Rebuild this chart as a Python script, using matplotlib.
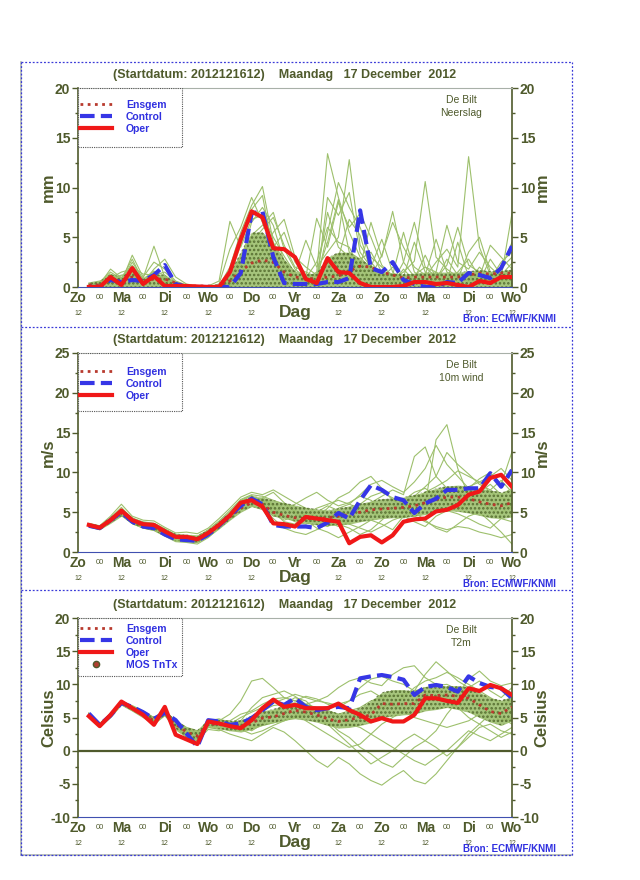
import matplotlib
matplotlib.use("Agg")
import matplotlib.pyplot as plt
from matplotlib.lines import Line2D
from matplotlib.patches import Rectangle
import numpy as np

plt.rcParams['font.family'] = ['Liberation Sans', 'DejaVu Sans']
plt.rcParams['hatch.linewidth'] = 1.2
plt.rcParams['axes.unicode_minus'] = False

# forecast hours after 16 Dec 12 UTC, 6-hourly
hours = np.arange(6, 241, 6)
day_labels = ["Zo", "Ma", "Di", "Wo", "Do", "Vr", "Za", "Zo", "Ma", "Di", "Wo"]

# ---- Neerslag (mm / 6h) ----
prec_oper = [0.0, 0.0, 1.0, 0.2, 1.9, 0.3, 1.1, 0.1, 0.1, 0.1,
             0.05, 0.0, 0.0, 1.5, 4.8, 7.6, 7.0, 3.9, 3.8, 3.0,
             0.8, 0.4, 2.9, 1.5, 1.4, 0.4, 0.0, 0.0, 0.0, 0.1,
             0.5, 0.5, 0.3, 0.4, 0.2, 0.0, 0.6, 0.4, 1.0, 1.0]
prec_ctrl = [0.0, 0.0, 0.7, 0.5, 0.7, 0.6, 1.2, 2.2, 0.3, 0.0,
             0.0, 0.0, 0.0, 0.0, 1.4, 7.4, 7.6, 3.0, 0.4, 0.3,
             0.3, 0.3, 0.5, 0.5, 0.9, 7.7, 1.9, 1.5, 2.5, 0.7,
             0.3, 0.0, 0.0, 0.5, 0.4, 1.4, 1.2, 0.9, 1.9, 4.1]
prec_mean = [0.2, 0.2, 0.7, 0.6, 1.0, 0.6, 0.8, 0.8, 0.4, 0.1,
             0.1, 0.1, 0.1, 0.6, 1.6, 2.4, 2.7, 2.5, 1.5, 1.0,
             0.9, 0.8, 1.0, 1.1, 1.6, 2.1, 2.0, 1.5, 1.2, 0.9,
             1.0, 1.0, 1.0, 1.0, 1.0, 1.2, 1.4, 1.3, 1.4, 1.4]
prec_members = [
    [0.3, 0.5, 1.5, 0.8, 2.8, 0.6, 1.2, 0.9, 0.3, 0.1, 0.0, 0.0, 0.1, 2.0, 5.5, 8.2, 10.1, 4.5, 2.0, 1.2,
     0.8, 1.5, 13.4, 9.0, 5.5, 3.0, 1.8, 0.9, 0.5, 0.6, 1.2, 2.0, 1.5, 0.8, 0.6, 1.4, 0.9, 0.7, 1.2, 2.4],
    [0.2, 0.4, 0.9, 1.5, 1.8, 0.9, 4.1, 1.0, 0.4, 0.1, 0.0, 0.1, 0.6, 6.6, 4.0, 6.8, 7.2, 5.0, 3.1, 1.4,
     4.7, 2.0, 3.5, 5.0, 12.8, 4.2, 2.5, 1.2, 0.8, 1.5, 2.6, 10.6, 3.0, 1.8, 1.0, 0.7, 0.5, 1.1, 1.9, 3.0],
    [0.1, 0.2, 1.2, 0.5, 3.2, 1.0, 2.5, 1.8, 0.6, 0.2, 0.1, 0.0, 0.0, 0.3, 2.5, 6.5, 8.0, 6.2, 2.5, 0.8,
     1.0, 6.9, 4.0, 8.5, 6.0, 7.4, 5.0, 2.2, 1.0, 0.7, 0.5, 1.0, 2.5, 3.8, 2.0, 13.1, 4.0, 1.2, 0.8, 1.0],
    [0.4, 0.6, 0.8, 1.2, 1.0, 0.4, 1.8, 2.8, 1.0, 0.3, 0.1, 0.0, 0.2, 0.8, 3.0, 4.5, 5.8, 7.0, 4.2, 2.0,
     1.5, 1.0, 7.5, 4.0, 3.0, 2.0, 6.5, 3.0, 7.6, 2.5, 1.0, 0.5, 1.5, 6.2, 2.5, 1.8, 3.5, 2.0, 1.0, 7.4],
    [0.0, 0.1, 0.5, 0.3, 1.5, 0.2, 0.8, 0.4, 0.2, 0.0, 0.0, 0.0, 0.0, 0.5, 1.5, 3.5, 5.0, 3.2, 1.5, 0.8,
     0.6, 0.4, 9.0, 7.2, 9.5, 3.5, 2.0, 4.8, 1.5, 0.6, 0.8, 3.2, 0.9, 0.5, 4.5, 1.0, 0.6, 2.8, 1.2, 1.5],
    [0.2, 0.3, 1.8, 0.9, 2.2, 0.7, 1.5, 1.2, 0.3, 0.1, 0.0, 0.0, 0.3, 3.8, 6.0, 9.0, 6.5, 4.0, 5.5, 2.5,
     1.2, 0.8, 2.5, 3.0, 6.8, 5.2, 1.5, 0.9, 2.0, 1.0, 4.5, 1.5, 0.8, 2.2, 6.0, 2.2, 1.5, 0.8, 2.5, 3.5],
    [0.3, 0.2, 0.6, 0.7, 0.9, 0.5, 1.0, 0.6, 0.2, 0.0, 0.0, 0.0, 0.0, 0.2, 0.9, 2.0, 3.5, 5.5, 6.8, 3.0,
     2.0, 1.2, 4.5, 8.8, 3.5, 2.8, 3.5, 1.5, 0.5, 2.5, 6.5, 2.0, 1.0, 0.6, 1.5, 2.8, 1.0, 4.2, 3.0, 1.8],
    [0.1, 0.4, 1.0, 1.1, 2.0, 1.3, 1.2, 1.5, 0.5, 0.2, 0.1, 0.0, 0.1, 1.2, 4.2, 7.8, 9.2, 3.5, 1.2, 0.5,
     0.3, 0.5, 5.5, 10.5, 8.0, 6.0, 3.0, 2.0, 1.2, 5.5, 1.5, 0.8, 1.2, 1.0, 0.8, 3.5, 5.0, 1.5, 0.6, 1.2],
    [0.2, 0.5, 1.3, 0.6, 2.5, 0.8, 1.6, 0.7, 0.3, 0.1, 0.0, 0.0, 0.0, 0.6, 2.2, 5.2, 6.2, 7.5, 3.8, 1.8,
     0.9, 2.5, 6.0, 4.5, 4.0, 1.8, 1.0, 3.2, 6.5, 4.0, 2.0, 1.2, 4.8, 1.5, 0.9, 1.2, 0.8, 0.6, 1.8, 4.5],
    [0.0, 0.2, 0.7, 0.4, 1.2, 0.3, 0.9, 0.5, 0.1, 0.0, 0.0, 0.0, 0.0, 0.1, 1.0, 2.8, 4.2, 2.5, 1.0, 0.4,
     0.3, 0.2, 1.5, 2.5, 3.0, 1.2, 0.8, 0.5, 0.4, 1.8, 0.6, 0.4, 0.7, 2.8, 1.2, 0.5, 2.0, 0.9, 0.5, 0.8],
]
prec_core_lo = [0.0] * 40
prec_core_hi = [0.4, 0.6, 1.3, 1.0, 1.8, 0.8, 1.3, 1.2, 0.5, 0.2,
                0.1, 0.1, 0.2, 1.5, 3.5, 5.5, 5.5, 4.5, 2.8, 1.6,
                1.3, 1.4, 3.0, 3.5, 3.5, 2.8, 2.2, 1.6, 1.4, 1.3,
                1.4, 1.5, 1.5, 1.5, 1.5, 1.6, 1.7, 1.6, 1.6, 1.8]

# ---- 10m wind (m/s) ----
wind_oper = [3.4, 3.05, 4.0, 5.2, 4.0, 3.5, 3.4, 2.6, 1.9, 1.9,
             1.6, 2.4, 3.4, 4.6, 6.2, 6.5, 5.7, 3.6, 3.5, 3.2,
             4.4, 4.2, 4.0, 3.8, 1.1, 1.9, 2.1, 1.2, 2.1, 3.8,
             4.1, 4.2, 5.1, 5.3, 5.9, 7.2, 7.6, 9.3, 9.7, 8.2]
wind_ctrl = [3.3, 3.0, 4.0, 5.0, 3.8, 3.2, 3.0, 2.2, 1.6, 1.5,
             1.4, 2.2, 3.3, 4.6, 5.8, 6.7, 6.0, 3.4, 3.2, 3.2,
             3.2, 3.0, 3.7, 4.9, 4.2, 6.5, 8.4, 7.8, 6.9, 6.5,
             4.9, 6.1, 6.7, 7.8, 7.8, 8.0, 8.0, 9.9, 8.2, 10.3]
wind_mean = [3.4, 3.0, 4.0, 4.9, 3.9, 3.3, 3.1, 2.4, 1.8, 1.7,
             1.6, 2.3, 3.3, 4.4, 5.5, 6.2, 6.0, 5.0, 4.6, 4.3,
             4.2, 4.2, 4.3, 4.5, 4.7, 5.0, 5.3, 5.4, 5.5, 5.6,
             5.8, 6.2, 6.6, 6.9, 6.9, 6.7, 6.3, 6.0, 5.8, 6.2]
wind_members = [
    [3.5, 3.2, 4.3, 5.6, 4.2, 3.8, 3.6, 2.9, 2.2, 2.0, 1.9, 2.8, 3.9, 5.2, 6.6, 7.2, 7.0, 6.5, 6.0, 5.2,
     4.5, 3.8, 4.2, 5.5, 6.0, 7.2, 8.5, 9.0, 8.2, 7.5, 8.8, 10.5, 13.4, 11.0, 9.5, 8.0, 9.2, 10.0, 8.5, 12.6],
    [3.2, 2.8, 3.8, 4.7, 3.6, 3.0, 2.7, 2.0, 1.3, 1.2, 1.0, 1.8, 3.0, 4.2, 5.5, 6.0, 6.8, 7.5, 6.2, 5.0,
     4.0, 3.0, 2.5, 1.8, 2.5, 3.2, 4.0, 3.5, 2.8, 4.5, 5.2, 6.0, 14.1, 16.0, 10.5, 7.0, 6.2, 5.5, 4.8, 6.0],
    [3.4, 3.1, 4.1, 5.0, 3.9, 3.4, 3.2, 2.5, 1.9, 1.8, 1.7, 2.5, 3.6, 4.9, 6.0, 6.9, 6.5, 5.8, 4.5, 3.8,
     3.5, 4.2, 5.5, 6.8, 7.5, 8.8, 9.5, 8.0, 6.5, 5.8, 6.2, 7.5, 8.2, 9.0, 10.2, 9.5, 8.8, 9.5, 10.5, 9.0],
    [3.6, 3.3, 4.5, 6.0, 4.5, 4.0, 3.9, 3.1, 2.4, 2.5, 2.3, 3.0, 4.2, 5.5, 6.9, 7.5, 7.2, 7.8, 7.0, 6.2,
     5.5, 5.0, 4.2, 3.5, 3.0, 2.2, 2.8, 4.0, 5.2, 6.0, 5.0, 4.0, 3.0, 2.5, 3.5, 4.5, 5.0, 3.8, 2.5, 1.0],
    [3.3, 2.9, 3.9, 4.8, 3.7, 3.1, 2.9, 2.2, 1.5, 1.4, 1.3, 2.1, 3.1, 4.3, 5.6, 6.4, 6.2, 5.0, 3.8, 3.5,
     4.2, 5.0, 5.8, 5.2, 4.5, 5.5, 6.2, 7.0, 7.8, 7.2, 12.0, 13.2, 9.5, 8.0, 7.5, 6.8, 7.2, 6.5, 6.0, 5.5],
    [3.5, 3.0, 4.2, 5.3, 4.1, 3.6, 3.5, 2.8, 2.0, 1.9, 1.8, 2.6, 3.8, 5.0, 6.4, 7.0, 5.8, 4.5, 5.2, 6.0,
     6.8, 7.5, 6.5, 5.8, 6.2, 7.0, 6.5, 5.5, 4.8, 5.0, 5.8, 6.5, 7.0, 6.2, 5.5, 6.0, 7.5, 8.5, 7.2, 8.0],
    [3.3, 3.0, 3.9, 4.9, 3.8, 3.3, 3.1, 2.3, 1.7, 1.6, 1.5, 2.3, 3.4, 4.5, 5.9, 6.6, 6.0, 4.8, 4.0, 4.5,
     5.0, 4.5, 3.8, 3.2, 3.8, 4.5, 5.0, 5.8, 6.0, 5.2, 4.5, 3.8, 3.2, 2.8, 3.2, 3.0, 2.5, 2.2, 1.8, 2.2],
    [3.4, 3.1, 4.0, 5.1, 4.0, 3.5, 3.3, 2.6, 1.8, 1.7, 1.6, 2.4, 3.5, 4.7, 6.1, 6.8, 6.6, 6.0, 5.5, 4.8,
     4.2, 3.6, 3.2, 4.0, 5.0, 6.0, 7.0, 7.5, 6.8, 6.2, 7.0, 8.2, 9.5, 12.5, 11.0, 9.8, 8.5, 7.8, 9.0, 7.5],
    [3.2, 2.9, 3.7, 4.6, 3.6, 3.0, 2.8, 2.1, 1.4, 1.3, 1.2, 2.0, 3.0, 4.1, 5.3, 5.8, 5.5, 4.2, 3.0, 2.5,
     2.2, 2.8, 3.5, 4.0, 3.5, 3.0, 2.5, 3.2, 4.0, 4.5, 3.8, 3.2, 4.5, 5.2, 4.8, 4.2, 3.5, 3.0, 4.2, 3.8],
    [3.5, 3.2, 4.2, 5.4, 4.3, 3.7, 3.6, 2.9, 2.1, 2.1, 2.0, 2.7, 3.7, 4.9, 6.5, 7.1, 6.4, 5.5, 4.5, 4.0,
     4.8, 5.5, 6.0, 6.5, 6.0, 5.5, 5.0, 4.5, 5.5, 6.5, 7.5, 8.0, 7.0, 6.5, 7.0, 8.2, 8.8, 7.5, 6.8, 6.5],
]
wind_core_lo = [3.1, 2.8, 3.6, 4.5, 3.5, 3.0, 2.7, 2.0, 1.4, 1.3,
                1.2, 1.9, 2.9, 4.0, 5.0, 5.7, 5.3, 4.5, 4.2, 3.9,
                3.6, 3.4, 3.3, 3.4, 3.5, 3.8, 4.0, 4.2, 4.3, 4.3,
                4.5, 4.7, 5.0, 5.2, 5.1, 4.9, 4.6, 4.3, 4.2, 4.4]
wind_core_hi = [3.7, 3.3, 4.4, 5.4, 4.3, 3.7, 3.5, 2.9, 2.3, 2.2,
                2.1, 2.8, 3.8, 5.0, 6.3, 7.0, 6.9, 6.5, 6.2, 5.9,
                5.6, 5.4, 5.3, 5.5, 5.8, 6.1, 6.4, 6.7, 6.8, 6.9,
                7.2, 7.6, 8.0, 8.3, 8.4, 8.3, 8.0, 7.8, 7.5, 7.8]

# ---- T2m (Celsius) ----
t2m_oper = [5.2, 3.7, 5.4, 7.4, 6.4, 5.4, 3.9, 6.6, 2.4, 1.7,
            1.0, 4.4, 4.1, 3.7, 3.4, 4.6, 6.4, 7.7, 6.6, 6.9,
            6.4, 6.4, 6.4, 7.1, 6.1, 5.4, 4.4, 4.9, 4.4, 4.4,
            5.4, 7.9, 7.9, 7.5, 7.2, 9.4, 9.0, 9.9, 9.4, 8.4]
t2m_ctrl = [5.6, 3.9, 5.3, 7.2, 6.6, 5.8, 4.8, 5.7, 4.6, 2.6,
            0.6, 4.6, 4.4, 3.9, 4.1, 4.9, 6.1, 7.4, 6.9, 7.9,
            6.6, 6.1, 6.4, 6.6, 6.4, 10.9, 11.2, 11.4, 11.1, 10.7,
            8.4, 9.6, 9.9, 9.6, 8.9, 11.2, 10.2, 9.6, 9.4, 7.9]
t2m_mean = [5.4, 3.8, 5.3, 7.2, 6.4, 5.6, 4.5, 5.8, 4.0, 2.8,
            2.2, 4.0, 4.0, 3.7, 3.6, 4.2, 4.9, 5.1, 5.6, 6.1,
            5.8, 5.4, 4.8, 4.4, 4.7, 5.0, 5.4, 7.1, 7.0, 7.1,
            7.1, 8.4, 8.3, 8.4, 8.2, 7.9, 6.9, 5.9, 5.6, 6.6]
t2m_members = [
    [5.6, 4.0, 5.5, 7.3, 6.8, 6.0, 5.0, 6.0, 4.5, 3.5, 3.0, 4.2, 4.5, 5.5, 7.5, 10.5, 10.9, 9.5, 8.0, 7.5,
     8.2, 7.8, 7.0, 6.5, 7.5, 9.5, 10.8, 11.2, 10.5, 10.0, 9.0, 11.5, 13.4, 12.0, 10.5, 9.5, 10.5, 9.0, 8.0, 9.5],
    [5.3, 3.6, 5.1, 7.0, 6.2, 5.2, 4.2, 5.5, 3.5, 2.2, 1.8, 3.5, 3.2, 2.5, 2.0, 1.5, 2.5, 3.5, 2.8, 1.5,
     0.0, -1.5, -2.5, -1.0, -2.0, -3.5, -4.5, -5.2, -4.0, -3.0, -4.5, -5.0, -3.5, -1.5, 0.5, 2.0, 3.5, 4.0, 3.0, 2.5],
    [5.5, 3.9, 5.4, 7.1, 6.5, 5.8, 4.8, 5.9, 4.2, 3.0, 2.5, 4.5, 4.8, 4.2, 3.8, 3.0, 4.0, 5.5, 7.0, 8.0,
     7.5, 6.0, 4.5, 3.0, 2.0, 0.5, -0.5, -1.8, -2.5, -1.0, 0.5, 1.5, 3.0, 5.5, 7.5, 8.0, 7.0, 6.0, 5.0, 4.0],
    [5.4, 3.7, 5.2, 7.2, 6.3, 5.5, 4.5, 5.7, 3.8, 2.5, 2.0, 3.8, 3.5, 3.0, 4.5, 6.5, 8.0, 8.5, 9.0, 8.2,
     7.0, 6.5, 5.5, 5.0, 4.0, 3.5, 2.5, 1.5, 0.5, -0.5, -1.5, -2.2, -1.0, 0.0, 1.5, 3.0, 2.2, 1.5, 2.5, 3.5],
    [5.7, 4.1, 5.6, 7.4, 6.7, 5.9, 4.9, 6.1, 4.4, 3.2, 2.8, 4.6, 4.3, 4.0, 5.0, 5.8, 6.5, 7.2, 7.8, 8.5,
     8.0, 7.5, 8.2, 9.5, 10.5, 11.0, 10.2, 9.8, 11.5, 12.5, 12.8, 11.0, 10.0, 9.5, 8.5, 10.8, 12.0, 10.5, 9.8, 10.2],
    [5.2, 3.5, 5.0, 6.9, 6.0, 5.0, 4.0, 5.3, 3.2, 2.0, 1.5, 3.2, 3.0, 3.5, 4.0, 4.5, 5.0, 5.8, 6.5, 5.5,
     4.5, 3.5, 2.5, 1.5, 0.5, 1.0, 2.5, 4.0, 5.0, 6.0, 7.0, 8.5, 9.0, 8.0, 6.5, 5.0, 4.0, 3.0, 2.0, 2.8],
    [5.5, 3.8, 5.3, 7.2, 6.5, 5.7, 4.6, 5.8, 4.1, 2.9, 2.4, 4.3, 4.1, 3.8, 4.2, 5.2, 6.0, 6.8, 7.0, 7.2,
     6.8, 6.5, 6.0, 5.5, 6.0, 6.5, 7.5, 8.0, 8.2, 8.5, 9.0, 9.5, 9.8, 10.0, 9.2, 8.5, 7.5, 6.5, 5.5, 6.0],
    [5.4, 3.8, 5.2, 7.0, 6.3, 5.4, 4.3, 5.6, 3.7, 2.6, 2.1, 3.9, 3.8, 3.3, 3.0, 3.5, 3.8, 4.2, 4.5, 5.0,
     5.5, 4.8, 4.0, 2.5, 1.0, -0.5, -2.0, -1.0, 0.0, 1.5, 2.5, 1.5, 0.5, -0.8, 0.5, 2.5, 4.0, 5.5, 4.5, 5.0],
    [5.6, 4.0, 5.5, 7.3, 6.6, 5.8, 4.7, 5.9, 4.3, 3.1, 2.6, 4.4, 4.6, 4.5, 5.5, 6.0, 7.0, 7.8, 8.0, 7.5,
     7.0, 7.5, 7.2, 6.8, 6.0, 5.5, 6.0, 6.5, 7.2, 8.0, 9.5, 10.5, 11.0, 11.8, 11.0, 10.0, 9.0, 8.0, 7.0, 7.5],
    [5.3, 3.7, 5.2, 7.1, 6.4, 5.5, 4.4, 5.6, 3.9, 2.7, 2.3, 4.1, 3.9, 3.4, 3.2, 2.5, 3.0, 3.8, 4.5, 5.2,
     5.8, 6.2, 6.5, 7.0, 7.5, 8.5, 9.0, 8.0, 7.0, 6.0, 5.0, 4.5, 4.0, 3.5, 4.0, 4.5, 5.5, 6.0, 5.0, 4.5],
]
t2m_core_lo = [5.2, 3.5, 5.0, 6.9, 6.0, 5.2, 4.0, 5.3, 3.3, 2.0,
               1.5, 3.5, 3.3, 3.0, 2.8, 3.2, 3.8, 4.2, 4.6, 4.8,
               4.6, 4.3, 3.8, 3.4, 3.5, 3.8, 4.2, 5.0, 5.2, 5.4,
               5.5, 6.0, 6.2, 6.5, 6.2, 5.8, 5.0, 4.3, 3.8, 4.5]
t2m_core_hi = [5.7, 4.2, 5.6, 7.5, 6.8, 6.0, 5.1, 6.1, 4.6, 3.6,
               3.1, 4.6, 4.7, 4.5, 4.6, 5.3, 6.0, 6.3, 6.8, 7.2,
               7.0, 6.6, 6.2, 5.6, 5.9, 6.5, 7.5, 8.8, 9.2, 9.2,
               9.0, 9.6, 9.6, 9.8, 9.8, 9.6, 8.8, 8.0, 7.6, 8.2]

TXT = "#4f5a2c"
MEMBER = "#9dc06c"
CORE = "#a6c57c"
STIPPLE = "#4d6428"
RED = "#f01818"
BLUE = "#3636e6"
MEAN = "#b83a2e"
LEGTXT = "#3030e0"
TITLE = "(Startdatum: 2012121612)    Maandag   17 December  2012"

fig = plt.figure(figsize=(6.4, 8.8), dpi=100)

# panel frames (dotted blue)
frame_kw = dict(transform=fig.transFigure, color="#3a3ad8", lw=0.9, ls=(0, (1.5, 1.5)))
L, R, T, B = 21 / 640, 572 / 640, 1 - 62 / 880, 1 - 855 / 880
fig.add_artist(Line2D([L, L], [B, T], color="#b0b8b0", lw=1.2, transform=fig.transFigure))
fig.add_artist(Line2D([L, R], [B, B], color="#b0b8b0", lw=1.2, transform=fig.transFigure))
for yy in [T, 1 - 326.5 / 880, 1 - 590 / 880, B]:
    fig.add_artist(Line2D([L, R], [yy, yy], **frame_kw))
for xx in [L, R]:
    fig.add_artist(Line2D([xx, xx], [B, T], **frame_kw))


def draw_panel(bottom_px, members, core_lo, core_hi, mean, ctrl, oper,
               ylim, step, ylabel, name, mos=False, zero=False,
               leg_top=12, leg_height=59):
    ax = fig.add_axes([78 / 640, 1 - bottom_px / 880, 434 / 640, 199 / 880])
    ax.fill_between(hours, core_lo, core_hi, color=CORE, lw=0, zorder=1)
    for m in members:
        ax.plot(hours, m, color=MEMBER, lw=0.8, zorder=2)
    ax.fill_between(hours, core_lo, core_hi, facecolor="none", edgecolor=STIPPLE,
                    hatch="....", lw=0, zorder=3, alpha=0.85)
    if zero:
        ax.axhline(0, color=TXT, lw=1.6, zorder=3)
    ax.plot(hours, mean, color=MEAN, lw=2.0, ls=(0, (1, 1.6)), zorder=4)
    ax.plot(hours, ctrl, color=BLUE, lw=3.0, ls=(0, (3.5, 1.5)), zorder=5)
    ax.plot(hours, oper, color=RED, lw=3.0, zorder=6)

    ax.set_xlim(0, 240)
    ax.set_ylim(*ylim)
    ax.set_xticks([])
    ax.set_yticks(np.arange(ylim[0], ylim[1] + 0.1, step))
    ax.set_yticks(np.arange(ylim[0], ylim[1] + 0.1, step / 2), minor=True)
    ax.tick_params(axis="y", which="both", direction="out", colors=TXT,
                   left=True, right=True, labelleft=True, labelright=True,
                   labelsize=10, pad=1.5, width=1)
    ax.tick_params(axis="y", which="major", length=4)
    ax.tick_params(axis="y", which="minor", length=2)
    for lab in ax.get_yticklabels():
        lab.set_fontweight("bold")
    for s in ["left", "right"]:
        ax.spines[s].set_color(TXT)
        ax.spines[s].set_linewidth(1.2)
    ax.spines["top"].set_color("#a8b0a8")
    ax.spines["bottom"].set_color("#4050b0")
    ax.spines["bottom"].set_linestyle((0, (1, 1)))

    for xpos in [-0.068, 1.069]:
        ax.text(xpos, 0.5, ylabel, transform=ax.transAxes,
                rotation=90, ha="center", va="center", fontsize=12,
                fontweight="bold", color=TXT)

    # x labels: day names at 12 UTC, 00 in between
    xt = ax.get_xaxis_transform()
    for i, d in enumerate(day_labels):
        ax.text(24 * i, -0.055, d, transform=xt, ha="center",
                va="center", fontsize=10, fontweight="bold", color=TXT)
        if i != 5:
            ax.text(24 * i, -0.132, "12", transform=xt, ha="center",
                    va="center", fontsize=5, color=TXT)
    for i in range(10):
        ax.text(24 * i + 12, -0.055, "00", transform=xt,
                ha="center", va="center", fontsize=5.5, color=TXT)
    ax.text(120, -0.128, "Dag", transform=xt, ha="center",
            va="center", fontsize=12.5, fontweight="bold", color=TXT)
    ax.text(1.101, -0.161, "Bron: ECMWF/KNMI", transform=ax.transAxes, ha="right",
            va="center", fontsize=7, fontweight="bold", color=LEGTXT)

    ax.text(0.8825, 0.94, "De Bilt", transform=ax.transAxes, ha="center", va="center",
            fontsize=7.5, color=TXT)
    ax.text(0.8825, 0.874, name, transform=ax.transAxes, ha="center", va="center",
            fontsize=7.5, color=TXT)
    fig.text(285 / 640, 1 - (bottom_px - 212) / 880, TITLE, ha="center", va="center",
             fontsize=9, fontweight="bold", color=TXT)

    # legend: dotted box plus entries without own frame
    ax.add_patch(Rectangle((0, 1 - leg_height / 199), 104 / 434, leg_height / 199,
                           transform=ax.transAxes, facecolor="white", edgecolor="#555555",
                           lw=0.8, ls=(0, (1, 1)), zorder=7))
    handles = [Line2D([], [], color=MEAN, lw=2.0, ls=(0, (1, 1.6))),
               Line2D([], [], color=BLUE, lw=3.0, ls=(0, (3.5, 1.5))),
               Line2D([], [], color=RED, lw=3.0)]
    labels = ["Ensgem", "Control", "Oper"]
    if mos:
        handles.append(Line2D([], [], ls="none", marker="o", markersize=4.5,
                              markerfacecolor="#b04030", markeredgecolor=TXT))
        labels.append("MOS TnTx")
    leg = ax.legend(handles, labels, loc="upper left",
                    bbox_to_anchor=(2 / 434, 1 - leg_top / 199),
                    borderaxespad=0, borderpad=0, handlelength=3.1,
                    handletextpad=1.3, labelspacing=0.18, frameon=False,
                    prop={"weight": "bold", "size": 7.5})
    leg.set_zorder(8)
    for t in leg.get_texts():
        t.set_color(LEGTXT)
    return ax


draw_panel(287, prec_members, prec_core_lo, prec_core_hi, prec_mean, prec_ctrl,
           prec_oper, (0, 20), 5, "mm", "Neerslag", leg_top=12, leg_height=59)
draw_panel(552, wind_members, wind_core_lo, wind_core_hi, wind_mean, wind_ctrl,
           wind_oper, (0, 25), 5, "m/s", "10m wind", leg_top=14, leg_height=58)
draw_panel(817, t2m_members, t2m_core_lo, t2m_core_hi, t2m_mean, t2m_ctrl,
           t2m_oper, (-10, 20), 5, "Celsius", "T2m", mos=True, zero=True,
           leg_top=6, leg_height=58)

fig.savefig("out.png", dpi=100)
